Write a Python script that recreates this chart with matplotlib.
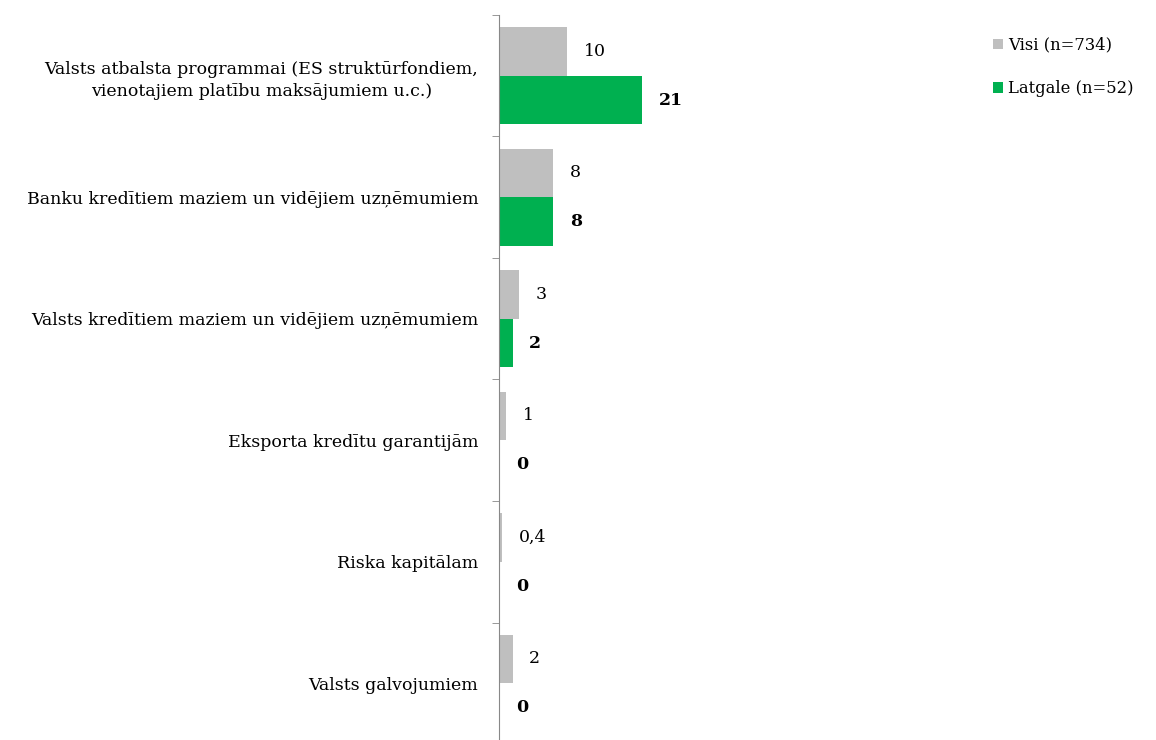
import matplotlib.pyplot as plt
import numpy as np

categories = [
    "Valsts atbalsta programmai (ES struktūrfondiem,\nvienotajiem platību maksājumiem u.c.)",
    "Banku kredītiem maziem un vidējiem uzņēmumiem",
    "Valsts kredītiem maziem un vidējiem uzņēmumiem",
    "Eksporta kredītu garantijām",
    "Riska kapitālam",
    "Valsts galvojumiem",
]
visi = [10, 8, 3, 1, 0.4, 2]
latgale = [21, 8, 2, 0, 0, 0]
series_names = ["Visi (n=734)", "Latgale (n=52)"]

GRAY = "#BFBFBF"
GREEN = "#00B050"

plt.rcParams["font.family"] = ["DejaVu Serif"]
plt.rcParams["font.size"] = 12.5

fig = plt.figure(figsize=(11.56, 7.40), dpi=100)
ax = fig.add_axes([499 / 1156, -4 / 740, 408 / 1156, 729 / 740])

y = np.arange(len(categories))
h = 0.4
ax.barh(y - h / 2, visi, height=h, color=GRAY, label=series_names[0])
ax.barh(y + h / 2, latgale, height=h, color=GREEN, label=series_names[1])

ax.set_xlim(0, 60)
ax.set_ylim(len(categories) - 0.5, -0.5)

def fmt(v):
    return f"{v:g}".replace(".", ",")

for yi, v in zip(y, visi):
    ax.annotate(fmt(v), (v, yi - h / 2), xytext=(12, 0), textcoords="offset points",
                ha="left", va="center")
for yi, v in zip(y, latgale):
    ax.annotate(fmt(v), (v, yi + h / 2), xytext=(12, 0), textcoords="offset points",
                ha="left", va="center", fontweight="bold")

ax.set_yticks(y)
ax.set_yticklabels(categories, multialignment="center", linespacing=1.4)
ax.set_yticks(np.arange(-0.5, len(categories)), minor=True)
ax.tick_params(axis="y", which="major", length=0, pad=15)
ax.tick_params(axis="y", which="minor", length=5, color="#888888", direction="out")
ax.set_xticks([])

for s in ["top", "right", "bottom"]:
    ax.spines[s].set_visible(False)
ax.spines["left"].set_color("#888888")

fig.legend(loc="upper left", bbox_to_anchor=(978 / 1156, 1 - 22 / 740), frameon=False,
           handlelength=0.65, handleheight=0.65, labelspacing=1.6, handletextpad=0.3,
           fontsize=11.8)

fig.savefig("out.png", dpi=100)
